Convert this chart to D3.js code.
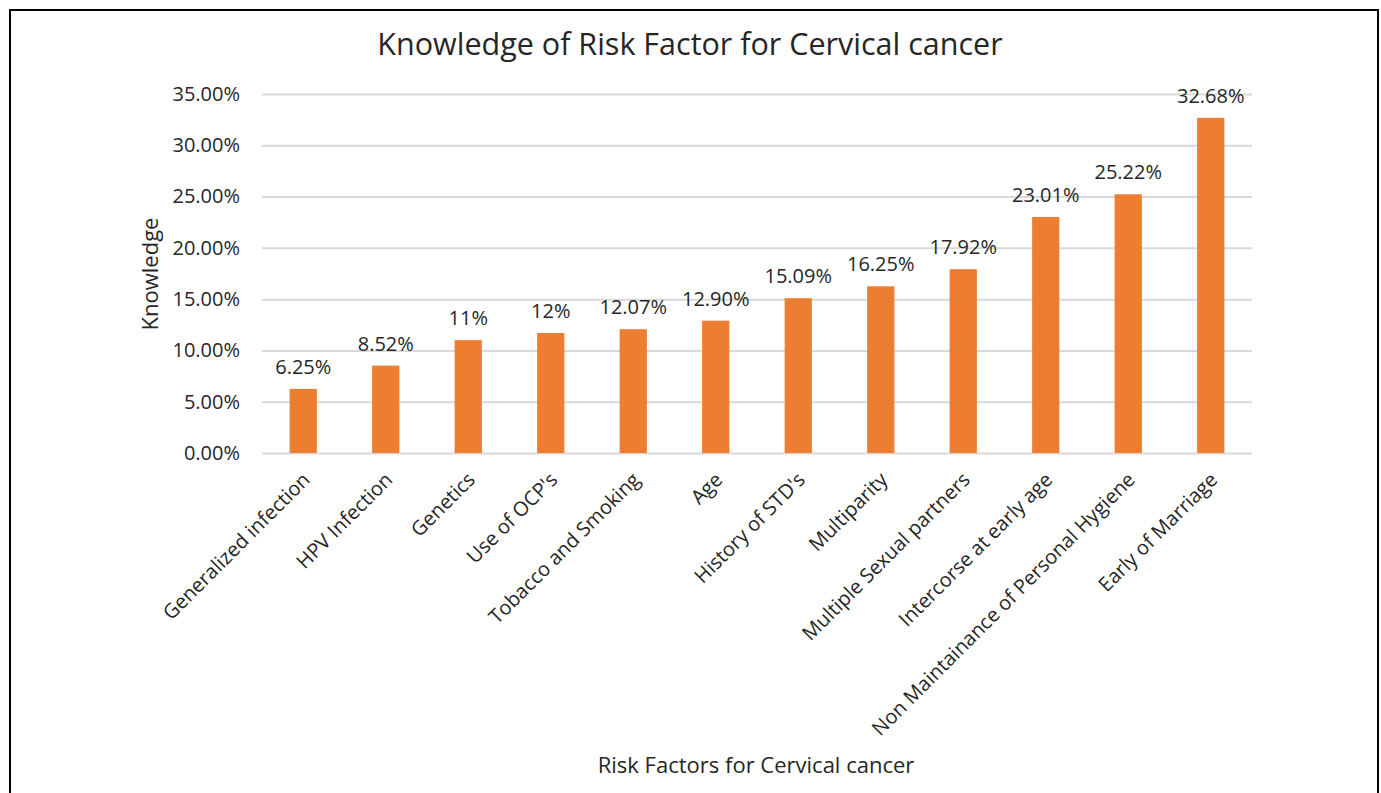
<!DOCTYPE html>
<html>
<head>
<meta charset="utf-8">
<script src="https://cdn.jsdelivr.net/npm/d3@7"></script>
<style>
  body { margin: 0; background: #fff; overflow: hidden; }
  svg { display: block; }
  text { font-family: "Open Sans", sans-serif; fill: #262626; }
</style>
</head>
<body>
<div id="root"></div>
<script>
const factors = [
  "Generalized infection", "HPV Infection", "Genetics", "Use of OCP's",
  "Tobacco and Smoking", "Age", "History of STD's", "Multiparity",
  "Multiple Sexual partners", "Intercorse at early age",
  "Non Maintainance of Personal Hygiene", "Early of Marriage"
];
const knowledge = [6.25, 8.52, 11, 11.7, 12.07, 12.9, 15.09, 16.25, 17.92, 23.01, 25.22, 32.68];
const valueLabels = ["6.25%", "8.52%", "11%", "12%", "12.07%", "12.90%", "15.09%", "16.25%", "17.92%", "23.01%", "25.22%", "32.68%"];
const yTicks = [0, 5, 10, 15, 20, 25, 30, 35];

const data = factors.map((f, i) => ({ factor: f, value: knowledge[i], label: valueLabels[i] }));

const width = 1381;
const height = 793;
const margin = { top: 94, left: 262, right: 129, bottom: 340 };
const innerWidth = width - margin.left - margin.right;
const innerHeight = height - margin.top - margin.bottom;

const svg = d3.select("#root")
  .append("svg")
  .attr("width", width)
  .attr("height", height)
  .attr("viewBox", `0 0 ${width} ${height}`);

// outer frame (bottom edge runs off the picture, as in the original)
svg.append("path")
  .attr("d", `M10,${height} V10 H1378 V${height}`)
  .attr("fill", "none")
  .attr("stroke", "#000")
  .attr("stroke-width", 2);

const innerChart = svg.append("g")
  .attr("transform", `translate(${margin.left}, ${margin.top})`);

const xScale = d3.scaleBand()
  .domain(factors)
  .range([0, innerWidth])
  .paddingInner(0.67)
  .paddingOuter(0.335);

const yScale = d3.scaleLinear().domain([0, 35]).range([innerHeight, 0]);

// gridlines + left axis labels
const leftAxis = d3.axisLeft(yScale)
  .tickValues(yTicks)
  .tickSize(-innerWidth)
  .tickPadding(22)
  .tickFormat(d => d.toFixed(2) + "%");

const gy = innerChart.append("g").call(leftAxis);
gy.select(".domain").remove();
gy.selectAll("line").attr("stroke", "#d9d9d9").attr("stroke-width", 2);
gy.selectAll("text").attr("font-size", 20).attr("fill", "#262626");

// bars
innerChart.selectAll("rect.bar")
  .data(data)
  .join("rect")
  .attr("class", "bar")
  .attr("x", d => xScale(d.factor))
  .attr("y", d => yScale(d.value))
  .attr("width", xScale.bandwidth())
  .attr("height", d => innerHeight - yScale(d.value))
  .attr("fill", "#ed7d31");

// value labels
innerChart.selectAll("text.val")
  .data(data)
  .join("text")
  .attr("class", "val")
  .attr("x", d => xScale(d.factor) + xScale.bandwidth() / 2)
  .attr("y", d => yScale(d.value) - 15)
  .attr("text-anchor", "middle")
  .attr("font-size", 20)
  .text(d => d.label);

// bottom axis
const bottomAxis = d3.axisBottom(xScale).tickSize(0).tickPadding(0);
const gx = innerChart.append("g")
  .attr("transform", `translate(0, ${innerHeight})`)
  .call(bottomAxis);
gx.select(".domain").remove();
gx.selectAll("text")
  .attr("font-size", 20)
  .attr("fill", "#262626")
  .attr("text-anchor", "end")
  .attr("dy", null)
  .attr("y", null)
  .attr("transform", "translate(8, 28) rotate(-45)");

// title
svg.append("text")
  .attr("x", 690)
  .attr("y", 55)
  .attr("text-anchor", "middle")
  .attr("font-size", 30.5)
  .text("Knowledge of Risk Factor for Cervical cancer");

// axis titles
svg.append("text")
  .attr("x", 756)
  .attr("y", 773)
  .attr("text-anchor", "middle")
  .attr("font-size", 22)
  .text("Risk Factors for Cervical cancer");

svg.append("text")
  .attr("transform", "translate(158, 274) rotate(-90)")
  .attr("text-anchor", "middle")
  .attr("font-size", 22)
  .text("Knowledge");
</script>
</body>
</html>
